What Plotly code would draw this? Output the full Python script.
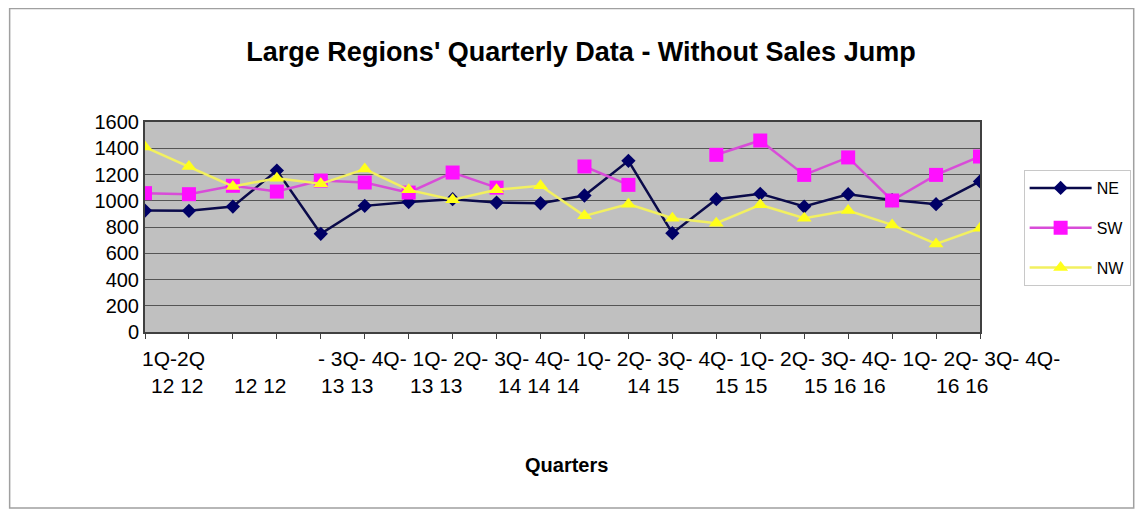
import plotly.graph_objects as go

# ---------------- data ----------------
quarters = ["1Q-12", "2Q-12", "3Q-12", "4Q-12", "1Q-13", "2Q-13", "3Q-13", "4Q-13",
            "1Q-14", "2Q-14", "3Q-14", "4Q-14", "1Q-15", "2Q-15", "3Q-15", "4Q-15",
            "1Q-16", "2Q-16", "3Q-16", "4Q-16"]
ne = [925, 923, 956, 1230, 748, 961, 990, 1012, 986, 981,
      1040, 1304, 753, 1012, 1053, 956, 1050, 1005, 974, 1147]
sw = [1058, 1050, 1114, 1070, 1154, 1139, 1062, 1215, 1100, None,
      1261, 1121, None, 1350, 1459, 1197, 1330, 1002, 1197, 1337]
nw = [1409, 1261, 1109, 1172, 1129, 1241, 1083, 1007, 1083, 1114,
      885, 974, 867, 829, 969, 867, 925, 816, 671, 791]

y_ticks = [0, 200, 400, 600, 800, 1000, 1200, 1400, 1600]

# tick label text as it appears (wrapped) under the axis
label_row1 = ["1Q-2Q",
              "- 3Q- 4Q- 1Q- 2Q- 3Q- 4Q- 1Q- 2Q- 3Q- 4Q- 1Q- 2Q- 3Q- 4Q- 1Q- 2Q- 3Q- 4Q-"]
label_row2 = ["12 12", "12 12", "13 13", "13 13", "14 14 14", "14 15", "15 15", "15 16 16", "16 16"]

title_text = "Large Regions' Quarterly Data - Without Sales Jump"
x_title = "Quarters"

# ---------------- layout geometry (page pixels) ----------------
OFF = 8                      # page body margin
W, H = 1143 - OFF, 513 - OFF
PL, PR, PT, PB = 145 - OFF, 987 - OFF, 122 - OFF, 332 - OFF


def px_x(px):
    return (px - OFF - PL) / (PR - PL)


def px_y(py):
    return (PB - (py - OFF)) / (PB - PT)


FONT = "Liberation Sans, Arial, sans-serif"

fig = go.Figure()
fig.add_trace(go.Scatter(x=quarters, y=ne, name="NE", mode="lines+markers",
                         line=dict(color="#0a0a4a", width=2.5),
                         marker=dict(symbol="diamond", size=11, color="#000066"),
                         legendgroup="ne"))
fig.add_trace(go.Scatter(x=quarters, y=sw, name="SW", mode="lines+markers",
                         line=dict(color="#d84cd8", width=2.5),
                         marker=dict(symbol="square", size=14, color="#ff10ff"),
                         legendgroup="sw"))
fig.add_trace(go.Scatter(x=quarters, y=nw, name="NW", mode="lines+markers",
                         line=dict(color="#f2f060", width=2.5),
                         marker=dict(symbol="triangle-up", size=13, color="#ffff1a"),
                         legendgroup="nw"))

annotations = []
row1_left = [140, 317]
for txt, lx in zip(label_row1, row1_left):
    annotations.append(dict(text=txt, x=px_x(lx), y=px_y(358), xref="paper", yref="paper",
                            xanchor="left", yanchor="middle", showarrow=False,
                            font=dict(family=FONT, size=21, color="#000")))
row2_centers = [178, 261, 349, 439, 542, 658, 746, 851, 969]
for txt, cx in zip(label_row2, row2_centers):
    annotations.append(dict(text=txt, x=px_x(cx), y=px_y(385), xref="paper", yref="paper",
                            xanchor="center", yanchor="middle", showarrow=False,
                            font=dict(family=FONT, size=21, color="#000")))
annotations.append(dict(text="<b>" + x_title + "</b>", x=px_x(570), y=px_y(465),
                        xref="paper", yref="paper", xanchor="center", yanchor="middle",
                        showarrow=False, font=dict(family=FONT, size=20, color="#000")))

fig.update_layout(
    width=W, height=H,
    margin=dict(l=PL, r=W - PR, t=PT, b=H - PB, pad=0),
    paper_bgcolor="white",
    plot_bgcolor="#c0c0c0",
    font=dict(family=FONT, size=20, color="#000"),
    title=dict(text="<b>" + title_text + "</b>", x=(581 - OFF) / W, xanchor="center",
               y=1 - (52 - OFF) / H, yanchor="middle", xref="container", yref="container",
               font=dict(family=FONT, size=27, color="#000")),
    xaxis=dict(type="category", range=[0, len(quarters) - 1], showticklabels=False,
               ticks="outside", ticklen=5, tickcolor="#404040", tickwidth=1,
               showgrid=False, showline=True, linecolor="#404040", linewidth=2,
               mirror=True, zeroline=False),
    yaxis=dict(range=[0, 1600], tickvals=y_ticks, ticktext=[str(v) for v in y_ticks],
               showgrid=True, gridcolor="#555555", gridwidth=1,
               showline=True, linecolor="#404040", linewidth=2, mirror=True,
               ticks="", ticklen=0, zeroline=False,
               tickfont=dict(family=FONT, size=20, color="#000")),
    legend=dict(x=px_x(1031), y=px_y(170), xanchor="left", yanchor="top",
                bgcolor="white", bordercolor="#c8c8c8", borderwidth=1,
                font=dict(family=FONT, size=16, color="#000"),
                tracegroupgap=16, itemwidth=62),
    annotations=annotations,
    shapes=[dict(type="rect", xref="paper", yref="paper",
                 x0=px_x(OFF + 0.5), x1=px_x(1142), y0=px_y(508), y1=px_y(OFF + 0.5),
                 line=dict(color="#a0a0a0", width=1.5), layer="below")],
    showlegend=True,
)

fig.write_html("out.html")
